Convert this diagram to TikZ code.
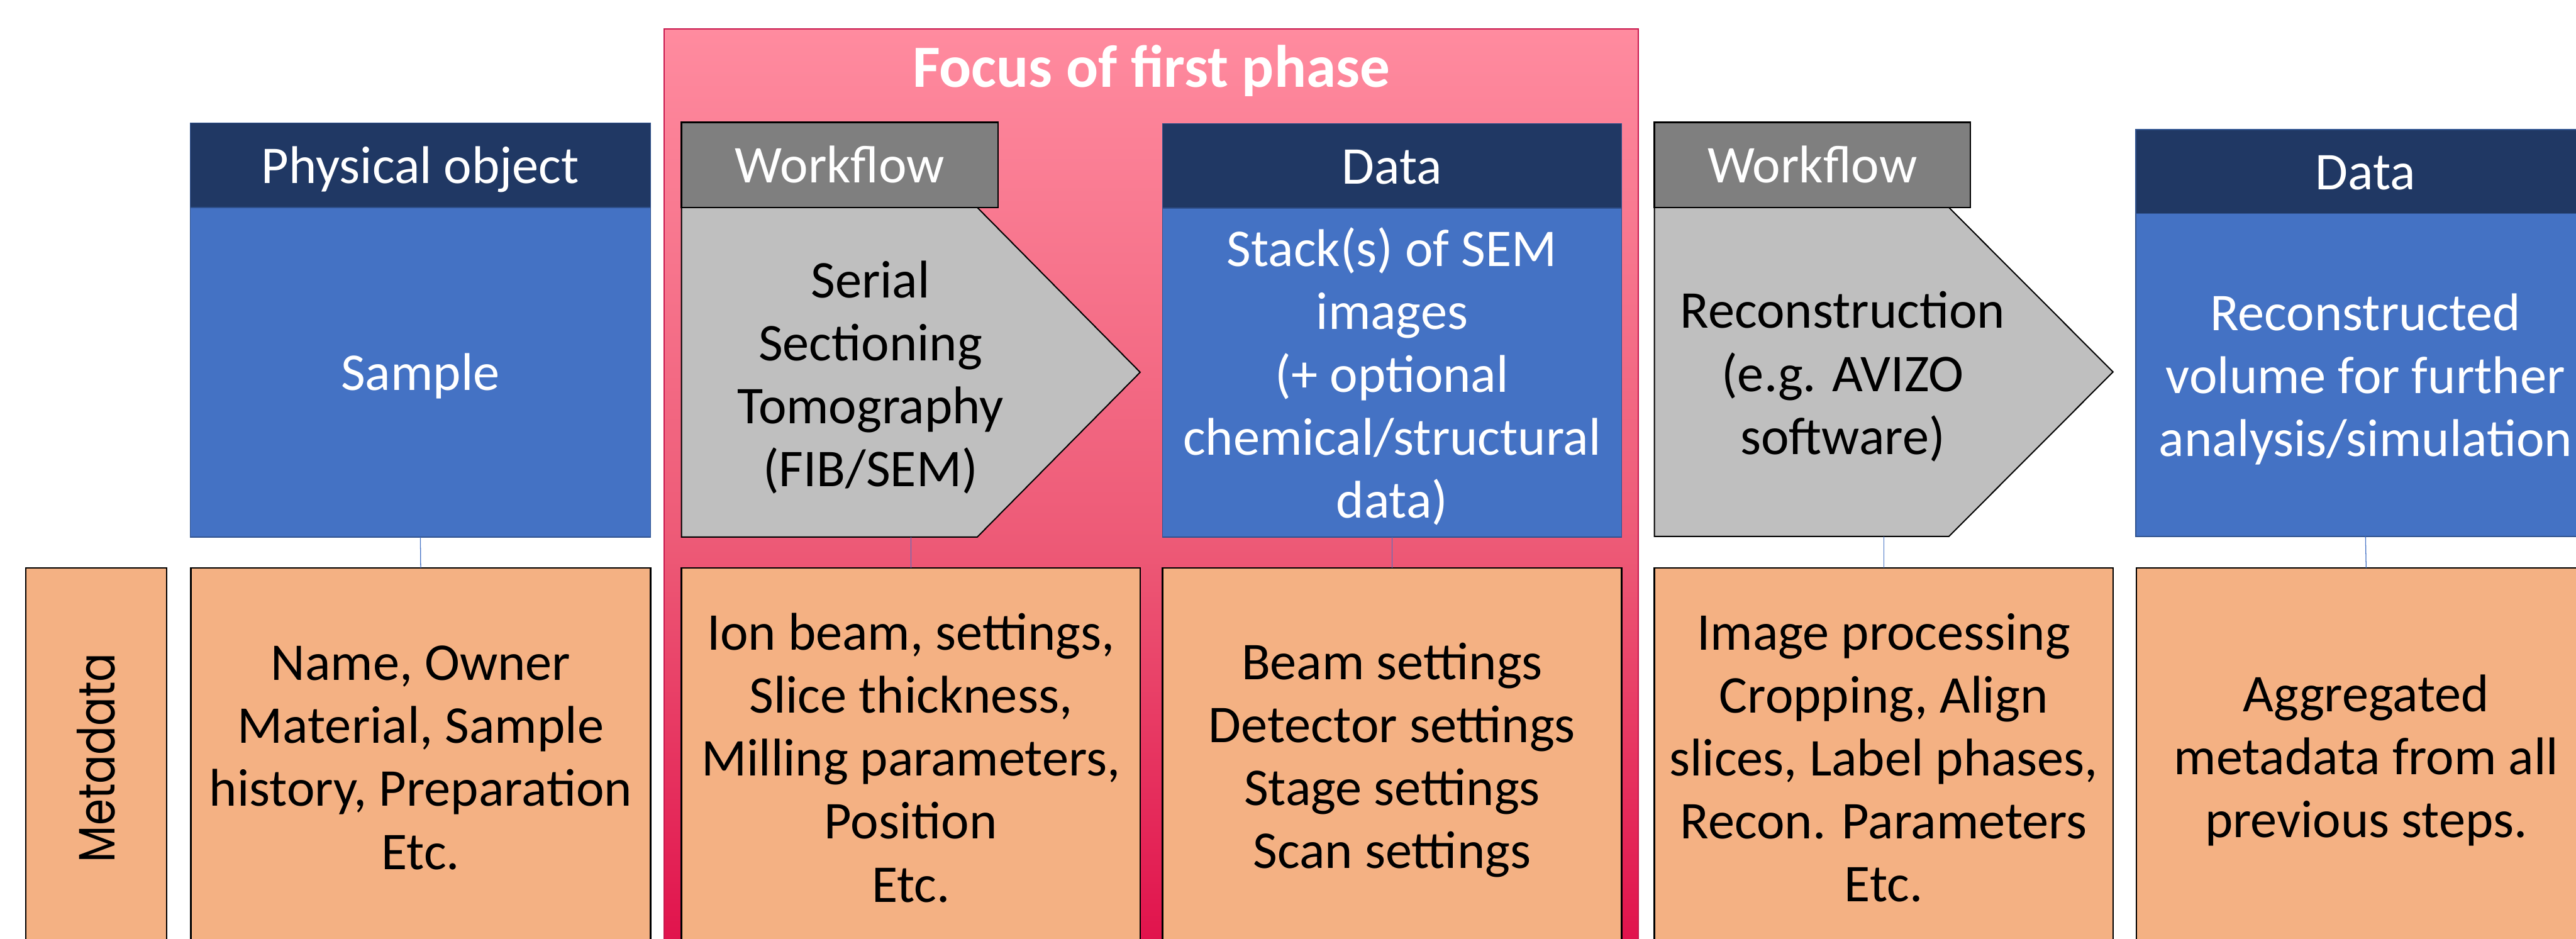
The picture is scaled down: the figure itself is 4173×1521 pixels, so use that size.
\documentclass[tikz,border=0pt]{standalone}
\usepackage{fontspec}
\usepackage{graphicx}
\setmainfont{Carlito}
\newfontfamily\metafont{Poppins}
\definecolor{navy}{RGB}{32,56,100}
\definecolor{bodyblue}{RGB}{68,114,196}
\definecolor{blueborder}{RGB}{47,82,143}
\definecolor{wfgray}{RGB}{127,127,127}
\definecolor{pentgray}{RGB}{191,191,191}
\definecolor{metaorange}{RGB}{244,177,131}
\definecolor{pinktop}{RGB}{255,139,159}
\definecolor{pinkmid}{RGB}{237,89,118}
\definecolor{pinkbot}{RGB}{224,15,74}
\definecolor{pinkborder}{RGB}{200,25,78}
\pgfdeclareverticalshading{pinkgrad}{100bp}{color(0bp)=(pinkbot); color(25bp)=(pinkbot); color(47.15bp)=(pinkmid); color(75bp)=(pinktop); color(100bp)=(pinktop)}
\tikzset{
  base/.style={inner sep=0pt, outer sep=0pt, align=center, font=\fontsize{86}{102}\selectfont},
  hdr/.style={base, fill=navy, draw=blueborder, line width=1.5pt},
  bodybox/.style={base, fill=bodyblue, draw=blueborder, line width=1.5pt},
  wfhdr/.style={base, fill=wfgray, draw=black, line width=2.5pt},
  pent/.style={fill=pentgray, draw=black, line width=2pt, line join=miter},
  meta/.style={base, fill=metaorange, draw=black, line width=2.5pt, text=black},
  ghost/.style={inner sep=0pt, outer sep=0pt, draw=none},
  wtxt/.style={base, text=white},
  btxt/.style={base, text=black},
  oneline/.style={anchor=base},
  link/.style={draw=bodyblue, line width=1.3pt},
}
\begin{document}
\begin{tikzpicture}[x=1pt,y=-1pt]
\useasboundingbox (0,0) rectangle (4173,1521);
\clip (0,0) rectangle (4173,1521);
% focus background
\path[shading=pinkgrad, draw=pinkborder, line width=2pt] (1076,47) rectangle (2654,1560);
\node[font=\bfseries\fontsize{97}{116}\selectfont, text=white, anchor=base, inner sep=0pt] (title) at (1865,141) {Focus of first phase};
% column 1: physical object
\node[bodybox, minimum width=746pt, minimum height=534pt] (sample) at (681,603) {};
\node[wtxt, oneline] (sampletxt) at ([yshift=-29pt]sample.center) {Sample};
\node[hdr, minimum width=746pt, minimum height=137pt] (physhdr) at (681,267.5) {};
\node[wtxt, oneline] (physhdrtxt) at ([yshift=-29pt]physhdr.center) {Physical object};
% column 2: workflow 1
\draw[pent] (1104,336) -- (1583,336) -- (1847,603) -- (1583,870) -- (1104,870) -- cycle;
\node[ghost, minimum width=743pt, minimum height=534pt] (wf1) at (1475.5,603) {};
\node[btxt] (wf1text) at (1410,611) {Serial\\Sectioning\\Tomography\\(FIB/SEM)};
\node[wfhdr, minimum width=513pt, minimum height=138pt] (wf1hdr) at (1360.5,267) {};
\node[wtxt, oneline] (wf1hdrtxt) at ([yshift=-29pt]wf1hdr.center) {Workflow};
% column 3: data 1
\node[bodybox, minimum width=744pt, minimum height=533pt] (data1) at (2255,603.5) {};
\node[wtxt] (data1txt) at ([yshift=-6pt]data1.center) {Stack(s) of SEM\\images\\(+ optional\\chemical/structural\\data)};
\node[hdr, minimum width=744pt, minimum height=137pt] (data1hdr) at (2255,268.5) {};
\node[wtxt, oneline] (data1hdrtxt) at ([yshift=-29pt]data1hdr.center) {Data};
% column 4: workflow 2
\draw[pent] (2680,336) -- (3157,336) -- (3423,602.5) -- (3157,869) -- (2680,869) -- cycle;
\node[ghost, minimum width=743pt, minimum height=533pt] (wf2) at (3051.5,602.5) {};
\node[btxt] (wf2text) at (2985,610) {Reconstruction\\(e.g. AVIZO\\software)};
\node[wfhdr, minimum width=512pt, minimum height=138pt] (wf2hdr) at (2936,267) {};
\node[wtxt, oneline] (wf2hdrtxt) at ([yshift=-29pt]wf2hdr.center) {Workflow};
% column 5: data 2
\node[bodybox, minimum width=744pt, minimum height=523pt] (data2) at (3832,607.5) {};
\node[wtxt] (data2txt) at ([yshift=-7pt]data2.center) {Reconstructed\\volume for further\\analysis/simulation};
\node[hdr, minimum width=744pt, minimum height=136pt] (data2hdr) at (3832,278) {};
\node[wtxt, oneline] (data2hdrtxt) at ([yshift=-29pt]data2hdr.center) {Data};
% metadata row
\node[meta, rotate=90, minimum width=615pt, minimum height=228pt, font=\metafont\fontsize{69}{84}\selectfont] (mdlabel) at (156,1227.5) {\scalebox{1}[1.2]{Metadata}};
\node[meta, minimum width=745pt, minimum height=615pt] (md1) at (681.5,1227.5) {Name, Owner\\Material, Sample\\history, Preparation\\Etc.};
\node[meta, minimum width=743pt, minimum height=615pt] (md2) at (1475.5,1227.5) {Ion beam, settings,\\Slice thickness,\\Milling parameters,\\Position\\Etc.};
\node[meta, minimum width=744pt, minimum height=615pt] (md3) at (2255,1227.5) {};
\node[btxt] (md3txt) at ([yshift=-4pt]md3.center) {Beam settings\\Detector settings\\Stage settings\\Scan settings};
\node[meta, minimum width=743pt, minimum height=615pt] (md4) at (3051.5,1227.5) {Image processing\\Cropping, Align\\slices, Label phases,\\Recon. Parameters\\Etc.};
\node[meta, minimum width=744pt, minimum height=615pt] (md5) at (3833,1227.5) {};
\node[btxt] (md5txt) at ([yshift=-4pt]md5.center) {Aggregated\\metadata from all\\previous steps.};
% connectors
\draw[link] (sample.south) -- (md1.north);
\draw[link] (wf1.south) -- (md2.north);
\draw[link] (data1.south) -- (md3.north);
\draw[link] (wf2.south) -- (md4.north);
\draw[link] (data2.south) -- (md5.north);
\end{tikzpicture}
\end{document}
